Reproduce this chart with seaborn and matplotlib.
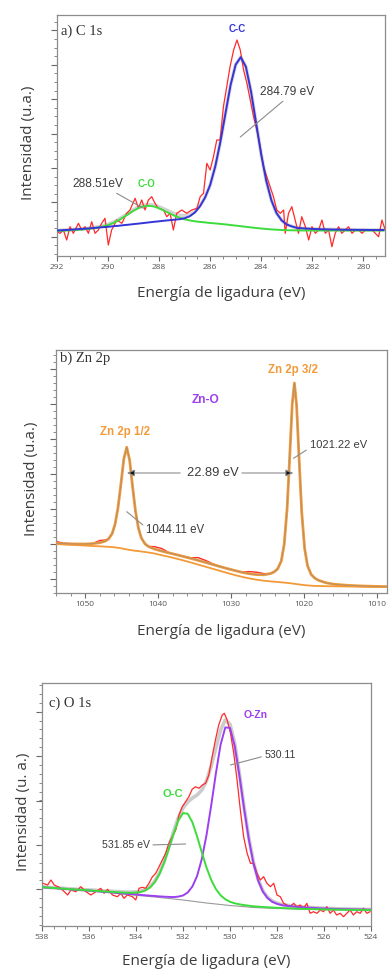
"""
XPS high-resolution spectra: C 1s, Zn 2p, O 1s (three stacked panels).
"""
import numpy as np
import matplotlib
matplotlib.use('Agg')
import matplotlib.pyplot as plt
from matplotlib.ticker import MultipleLocator, FixedLocator
import seaborn as sns

# ── a) C 1s ───────────────────────────────────────────────────────────
c1s_energy = np.linspace(292.0, 279.2, 65)
c1s_cc = [25.5, 25.8, 26.1, 26.4, 26.8, 27.1, 27.5, 27.9, 28.4, 28.8,
          29.2, 29.8, 30.2, 30.8, 31.3, 31.9, 32.4, 33.0, 33.6, 34.2,
          34.7, 35.3, 35.8, 36.3, 36.8, 37.8, 39.7, 43.5, 49.7, 58.4,
          71.0, 89.6, 114.1, 142.6, 171.0, 191.4, 198.8, 189.2, 164.6, 133.0,
          101.5, 75.0, 55.6, 42.9, 35.6, 31.5, 29.6, 28.1, 27.7, 27.4,
          27.1, 26.9, 26.7, 26.6, 26.5, 26.4, 26.3, 26.2, 26.2, 26.1,
          26.1, 26.0, 26.0, 26.0, 26.0]
c1s_co = [25.0, 25.3, 25.6, 25.9, 26.2, 26.5, 27.1, 27.7, 28.4, 29.5,
          30.9, 33.0, 35.5, 38.7, 42.0, 45.3, 48.0, 49.7, 50.2, 49.5,
          47.7, 45.3, 42.8, 40.3, 38.3, 36.7, 35.6, 34.7, 34.1, 33.6,
          33.0, 32.6, 32.1, 31.6, 31.0, 30.4, 29.8, 29.2, 28.6, 28.0,
          27.5, 27.0, 26.6, 26.3, 26.0, 25.8, 25.7, 25.6, 25.5, 25.5,
          25.5, 25.5, 25.5, 25.5, 25.5, 25.5, 25.5, 25.5, 25.5, 25.5,
          25.5, 25.5, 25.5, 25.5, 25.5]
c1s_env = [25.5, 25.8, 26.1, 26.4, 26.8, 27.1, 27.7, 28.3, 29.1, 30.2,
           31.6, 33.8, 36.3, 39.6, 42.9, 46.3, 49.0, 50.8, 51.4, 50.8,
           49.1, 46.9, 44.6, 42.4, 40.8, 40.2, 41.1, 44.2, 50.1, 58.6,
           71.0, 89.6, 114.1, 142.6, 171.0, 191.4, 198.8, 189.2, 164.6, 133.0,
           101.5, 75.0, 55.6, 42.9, 35.6, 31.5, 29.6, 28.1, 27.7, 27.4,
           27.1, 26.9, 26.7, 26.6, 26.5, 26.4, 26.3, 26.2, 26.2, 26.1,
           26.1, 26.0, 26.0, 26.0, 26.0]
c1s_raw_energy = [292.00, 291.88, 291.75, 291.62, 291.49, 291.36, 291.16, 291.03, 290.90, 290.77,
                  290.64, 290.51, 290.38, 290.25, 290.12, 289.99, 289.86, 289.66, 289.46, 289.27,
                  289.14, 288.94, 288.81, 288.68, 288.55, 288.42, 288.29, 288.16, 288.03, 287.83,
                  287.70, 287.57, 287.44, 287.31, 287.11, 286.92, 286.72, 286.52, 286.39, 286.26,
                  286.13, 286.00, 285.87, 285.74, 285.61, 285.48, 285.35, 285.22, 285.08, 284.95,
                  284.82, 284.69, 284.56, 284.43, 284.30, 284.17, 284.04, 283.91, 283.78, 283.65,
                  283.52, 283.39, 283.25, 283.12, 283.06, 282.93, 282.80, 282.67, 282.54, 282.41,
                  282.27, 282.14, 282.01, 281.88, 281.75, 281.62, 281.49, 281.36, 281.23, 281.10,
                  280.97, 280.84, 280.71, 280.58, 280.44, 280.31, 280.18, 280.05, 279.92, 279.79,
                  279.66, 279.53, 279.40, 279.27, 279.14]
c1s_raw = [24.3, 22.7, 26.0, 16.0, 29.3, 22.7, 32.7, 26.0, 29.3, 22.7,
           34.3, 22.7, 26.0, 32.7, 37.7, 11.0, 26.0, 36.0, 32.7, 42.7,
           46.0, 57.7, 47.7, 56.0, 46.0, 56.0, 59.3, 52.7, 47.7, 46.0,
           39.3, 42.7, 26.0, 42.7, 46.0, 42.7, 46.0, 47.7, 59.3, 62.7,
           92.7, 86.0, 99.3, 116.0, 116.0, 149.3, 169.3, 189.3, 206.0, 216.0,
           206.0, 186.0, 172.7, 156.0, 139.3, 126.0, 109.3, 89.3, 79.3, 69.3,
           59.3, 46.0, 42.7, 46.0, 22.7, 42.7, 49.3, 36.0, 22.7, 39.3,
           29.3, 16.0, 29.3, 22.7, 26.0, 36.0, 22.7, 26.0, 9.3, 22.7,
           29.3, 22.7, 26.0, 29.3, 22.7, 26.0, 26.0, 22.7, 26.0, 26.0,
           26.0, 22.7, 19.3, 36.0, 26.0]

# ── b) Zn 2p ──────────────────────────────────────────────────────────
zn_energy = [1054, 1053, 1052, 1051, 1050, 1049, 1048, 1047.3, 1046.8, 1046.3,
             1045.9, 1045.5, 1045.1, 1044.7, 1044.3, 1043.9, 1043.5, 1043.1, 1042.7, 1042.3,
             1041.8, 1041.3, 1040.5, 1039.5, 1038.5, 1037.5, 1036.5, 1035.5, 1034.5, 1033.5,
             1032.5, 1031.5, 1030.5, 1029.5, 1028.5, 1027.5, 1026.5, 1025.5, 1024.6, 1024.1,
             1023.6, 1023.1, 1022.7, 1022.3, 1021.9, 1021.6, 1021.3, 1021.0, 1020.7, 1020.3,
             1019.9, 1019.5, 1019.0, 1018.5, 1018.0, 1017, 1016, 1015, 1014, 1013,
             1012, 1011, 1010, 1009, 1008.6]
zn_fit = [49.6, 49.3, 49.1, 49.0, 49.0, 49.3, 50.3, 51.7, 54.0, 59.4,
          68.7, 85.0, 108.6, 133.9, 145.7, 132.8, 106.5, 82.0, 65.0, 55.1,
          49.2, 46.4, 44.0, 41.9, 40.1, 38.3, 36.5, 34.6, 32.6, 30.6,
          28.5, 26.4, 24.4, 22.5, 20.7, 19.3, 18.4, 18.2, 19.4, 21.0,
          24.1, 32.0, 48.7, 84.5, 142.7, 188.9, 210.0, 187.8, 140.6, 81.3,
          44.6, 27.2, 18.5, 14.8, 12.7, 10.3, 8.9, 8.2, 7.7, 7.3,
          7.0, 6.8, 6.6, 6.4, 6.4]
zn_bg = [49.0, 48.6, 48.2, 47.8, 47.4, 47.0, 46.7, 46.4, 46.2, 45.9,
         45.6, 45.2, 44.7, 44.2, 43.6, 43.1, 42.6, 42.2, 41.9, 41.5,
         41.0, 40.5, 39.5, 37.8, 36.2, 34.4, 32.5, 30.5, 28.4, 26.3,
         24.2, 22.1, 20.0, 18.0, 16.2, 14.6, 13.3, 12.3, 11.6, 11.3,
         11.0, 10.7, 10.4, 10.1, 9.8, 9.5, 9.2, 8.9, 8.6, 8.2,
         7.9, 7.6, 7.3, 7.1, 7.0, 6.8, 6.7, 6.6, 6.5, 6.4,
         6.3, 6.2, 6.1, 6.0, 6.0]
zn_raw = [51.6, 49.8, 49.4, 49.2, 49.0, 49.5, 52.5, 52.9, 54.0, 59.4,
          68.7, 85.0, 108.6, 133.9, 145.7, 132.8, 106.5, 82.0, 65.0, 55.1,
          49.2, 46.6, 46.3, 44.5, 40.4, 38.3, 36.5, 35.2, 35.4, 32.6,
          29.2, 26.4, 24.4, 22.5, 20.9, 21.4, 20.8, 19.4, 19.4, 21.0,
          24.1, 32.0, 48.7, 84.5, 142.7, 188.9, 210.0, 187.8, 140.6, 81.3,
          44.6, 27.2, 18.5, 14.8, 12.7, 10.3, 8.9, 8.2, 7.7, 7.3,
          7.0, 6.8, 6.6, 6.4, 6.4]

# ── c) O 1s ───────────────────────────────────────────────────────────
o_energy = np.linspace(538.0, 524.0, 71)
o_bg = [38.5, 38.2, 37.8, 37.5, 37.1, 36.8, 36.4, 36.1, 35.7, 35.4,
        35.0, 34.6, 34.2, 33.8, 33.4, 33.0, 32.6, 32.1, 31.7, 31.2,
        30.8, 30.3, 29.9, 29.4, 29.0, 28.5, 28.0, 27.5, 27.0, 26.5,
        26.0, 25.4, 24.8, 24.2, 23.6, 23.0, 22.5, 22.0, 21.5, 21.0,
        20.5, 20.1, 19.7, 19.3, 18.9, 18.5, 18.3, 18.1, 17.9, 17.7,
        17.5, 17.4, 17.2, 17.1, 16.9, 16.8, 16.7, 16.6, 16.5, 16.4,
        16.3, 16.2, 16.2, 16.1, 16.1, 16.0, 16.0, 15.9, 15.9, 15.8,
        15.8]
o_zn = [38.8, 38.5, 38.1, 37.8, 37.4, 37.1, 36.7, 36.4, 36.0, 35.7,
        35.5, 35.1, 34.7, 34.3, 33.9, 33.6, 33.2, 32.7, 32.3, 31.9,
        31.6, 31.1, 30.7, 30.3, 30.0, 29.6, 29.3, 29.1, 28.9, 29.4,
        30.5, 33.5, 39.5, 50.0, 67.0, 90.9, 120.5, 152.7, 181.4, 198.6,
        198.1, 180.0, 150.4, 117.3, 86.8, 62.4, 45.3, 34.3, 27.9, 24.2,
        22.2, 20.9, 20.2, 19.7, 19.2, 18.8, 18.5, 18.2, 18.0, 17.7,
        17.5, 17.3, 17.2, 17.0, 16.9, 16.8, 16.7, 16.6, 16.5, 16.4,
        16.3]
o_c = [38.8, 38.5, 38.1, 37.9, 37.5, 37.2, 36.8, 36.6, 36.2, 36.0,
       35.6, 35.3, 35.0, 34.6, 34.3, 34.1, 33.8, 33.5, 33.3, 33.2,
       33.4, 34.0, 35.6, 38.6, 43.9, 52.1, 63.5, 77.5, 92.4, 105.4,
       112.9, 112.3, 103.7, 89.6, 73.6, 58.5, 46.1, 36.9, 30.7, 26.7,
       24.2, 22.7, 21.7, 20.9, 20.3, 19.7, 19.35, 19.0, 18.7, 18.45,
       18.2, 18.0, 17.8, 17.6, 17.4, 17.2, 17.1, 17.0, 16.85, 16.7,
       16.6, 16.5, 16.5, 16.35, 16.3, 16.2, 16.2, 16.1, 16.1, 16.0,
       16.0]
o_env = [39.1, 38.8, 38.4, 38.2, 37.8, 37.5, 37.1, 36.9, 36.5, 36.3,
         36.1, 35.8, 35.5, 35.1, 34.8, 34.7, 34.4, 34.1, 33.9, 33.9,
         34.2, 34.8, 36.4, 39.5, 44.9, 53.2, 64.8, 79.1, 94.3, 108.3,
         118.0, 124.0, 128.0, 131.0, 136.0, 145.0, 160.0, 178.0, 196.0, 206.0,
         201.8, 182.6, 152.4, 118.9, 88.2, 63.6, 46.4, 35.2, 28.7, 25.0,
         22.9, 21.5, 20.8, 20.2, 19.7, 19.2, 18.9, 18.6, 18.35, 18.0,
         17.8, 17.6, 17.45, 17.25, 17.15, 17.0, 16.9, 16.8, 16.7, 16.6,
         16.5]
o_raw_energy = [537.96, 537.76, 537.62, 537.48, 537.26, 537.05, 536.91, 536.77, 536.56, 536.35,
                536.13, 535.92, 535.71, 535.50, 535.36, 535.21, 535.00, 534.79, 534.65, 534.51,
                534.37, 534.15, 534.01, 533.87, 533.73, 533.59, 533.45, 533.30, 533.16, 533.02,
                532.88, 532.74, 532.60, 532.46, 532.31, 532.17, 532.03, 531.89, 531.75, 531.61,
                531.47, 531.32, 531.18, 531.04, 530.90, 530.76, 530.62, 530.48, 530.33, 530.24,
                530.12, 529.98, 529.84, 529.70, 529.56, 529.42, 529.27, 529.13, 528.99, 528.85,
                528.71, 528.57, 528.43, 528.28, 528.14, 528.00, 527.86, 527.72, 527.58, 527.44,
                527.29, 527.15, 527.01, 526.87, 526.73, 526.59, 526.45, 526.30, 526.16, 526.02,
                525.88, 525.74, 525.60, 525.46, 525.31, 525.17, 525.03, 524.89, 524.75, 524.61,
                524.46, 524.32, 524.18, 524.04]
o_raw = [42.7, 41.0, 46.0, 41.0, 38.7, 34.3, 31.0, 36.0, 34.3, 39.3,
         34.3, 31.0, 34.3, 37.7, 32.7, 36.7, 31.0, 29.3, 32.7, 27.7,
         31.0, 29.3, 26.0, 37.7, 38.7, 37.7, 42.7, 49.3, 52.7, 59.3,
         66.0, 72.7, 82.7, 89.3, 96.0, 111.0, 119.3, 124.3, 129.3, 136.7,
         139.3, 137.7, 141.0, 142.7, 151.0, 169.3, 186.0, 201.0, 211.0, 212.7,
         206.0, 192.7, 172.7, 146.0, 116.0, 89.3, 72.7, 62.7, 62.7, 52.7,
         46.0, 49.3, 42.7, 39.3, 42.7, 31.0, 29.3, 22.7, 21.0, 19.3,
         22.7, 19.3, 21.0, 17.7, 22.7, 12.7, 14.3, 12.7, 16.0, 14.3,
         19.3, 12.7, 16.0, 11.0, 12.7, 9.3, 12.7, 16.0, 11.0, 14.3,
         12.7, 17.7, 12.7, 14.3]

# ── Style ─────────────────────────────────────────────────────────────
sns.set_style('white')
plt.rcParams['font.family'] = ['DejaVu Sans']

RED = '#ff2a2a'
BLUE = '#3434d8'
GREEN = '#3ddc3d'
ORANGE = '#f39a38'
PURPLE = '#9b3ff0'
GRAY_TXT = '#3c3c3c'
LEADER = '#8c8c8c'
LABEL_FONT = 'Open Sans'
NOTE_FONT = 'Liberation Sans'


def line(ax, x, y, color, lw, z, alpha=1.0):
    sns.lineplot(x=x, y=y, ax=ax, color=color, linewidth=lw, estimator=None,
                 sort=False, legend=False, zorder=z, alpha=alpha)


def style_axes(ax, xlim, xmajor, xminor, ymajor, yminor, ytop, ylabel,
               ylab_x, xlab_y):
    ax.set_xlim(*xlim)
    ax.set_ylim(0, ytop)
    ax.xaxis.set_major_locator(MultipleLocator(xmajor))
    ax.xaxis.set_minor_locator(MultipleLocator(xminor))
    ax.yaxis.set_major_locator(FixedLocator(ymajor))
    ax.yaxis.set_minor_locator(FixedLocator(yminor))
    ax.tick_params(axis='x', which='major', direction='out', length=3.5,
                   width=0.8, color='#666666', labelsize=6, labelcolor='#555555',
                   pad=2.5, bottom=True)
    ax.tick_params(axis='x', which='minor', direction='out', length=2,
                   width=0.6, color='#777777', bottom=True)
    ax.tick_params(axis='y', which='major', direction='out', length=4,
                   width=0.8, color='#666666', left=True, labelleft=False)
    ax.tick_params(axis='y', which='minor', direction='out', length=2,
                   width=0.6, color='#777777', left=True)
    for lab in ax.get_xticklabels():
        lab.set_family(LABEL_FONT)
    for sp in ax.spines.values():
        sp.set_color('#8c8c8c')
        sp.set_linewidth(0.9)
    ax.set_xlabel('Energía de ligadura (eV)', fontsize=11, color=GRAY_TXT,
                  family=LABEL_FONT)
    ax.xaxis.set_label_coords(0.5, xlab_y)
    ax.xaxis.label.set_va('center')
    ax.set_ylabel(ylabel, fontsize=11, color=GRAY_TXT, family=LABEL_FONT)
    ax.yaxis.set_label_coords(ylab_x, 0.47)
    ax.yaxis.label.set_va('center')


def note(ax, text, xy, xytext, relpos, size=8):
    ax.annotate(text, xy=xy, xytext=xytext, ha='center', va='center',
                fontsize=size, color=GRAY_TXT, family=NOTE_FONT, zorder=6,
                arrowprops=dict(arrowstyle='-', color=LEADER, lw=0.8,
                                shrinkA=0, shrinkB=0, relpos=relpos))


def tag(ax, text, x, y, color, size=7):
    ax.text(x, y, text, ha='center', va='center', fontsize=size, color=color,
            fontweight='bold', family=NOTE_FONT, zorder=6)


fig = plt.figure(figsize=(3.9, 9.75), dpi=100)
fig.patch.set_facecolor('white')

# ── Panel a ───────────────────────────────────────────────────────────
axa = fig.add_axes([57 / 390, 1 - 256 / 975, 328 / 390, 241 / 975])
line(axa, c1s_energy, c1s_env, '#d4d4d4', 2.6, 1)
line(axa, c1s_raw_energy, c1s_raw, RED, 0.9, 2)
line(axa, c1s_energy, c1s_co, GREEN, 1.4, 3)
line(axa, c1s_energy, c1s_cc, BLUE, 1.4, 4)
style_axes(axa, (292, 279.15), 2, 0.5,
           np.arange(19.3, 241, 34.4), np.arange(2.1, 241, 8.6), 241,
           'Intensidad (u.a.)', -0.087, -0.154)
axa.text(0.012, 0.934, 'a) C 1s', transform=axa.transAxes, ha='left',
         va='center', fontsize=10.5, family='Liberation Serif', color='#333333')
tag(axa, 'C-C', 284.94, 227, BLUE, 7)
tag(axa, 'C-O', 288.48, 72, GREEN, 7)
note(axa, '284.79 eV', (284.82, 119), (283.0, 164), (0.5, 0), 8.6)
note(axa, '288.51eV', (288.62, 47.7), (290.39, 72), (0.75, 0), 8.6)

# ── Panel b ───────────────────────────────────────────────────────────
axb = fig.add_axes([56 / 390, 1 - 593 / 975, 331 / 390, 243 / 975])
line(axb, zn_energy, zn_raw, RED, 1.0, 2)
line(axb, zn_energy, zn_bg, ORANGE, 1.3, 3)
line(axb, zn_energy, zn_fit, ORANGE, 2.0, 4)
line(axb, zn_energy, zn_fit, '#8a8a8a', 0.5, 5, alpha=0.8)
style_axes(axb, (1054, 1008.6), 10, 2,
           np.arange(14.5, 243, 35), np.arange(0.5, 243, 7), 243,
           'Intensidad (u.a.)', -0.073, -0.159)
axb.text(0.012, 0.965, 'b) Zn 2p', transform=axb.transAxes, ha='left',
         va='center', fontsize=10.5, family='Liberation Serif', color='#333333')
tag(axb, 'Zn-O', 1033.54, 193, PURPLE, 8.6)
tag(axb, 'Zn 2p 3/2', 1021.47, 223, ORANGE, 8.3)
tag(axb, 'Zn 2p 1/2', 1044.5, 161.3, ORANGE, 8.3)
note(axb, '1021.22 eV', (1021.43, 134.7), (1015.3, 148), (0.0, 0.2), 8)
note(axb, '1044.11 eV', (1044.3, 81.3), (1037.65, 63), (0.0, 0.7), 8.3)
axb.text(1032.44, 120, '22.89 eV', ha='center', va='center', fontsize=9.3,
         color=GRAY_TXT, family=NOTE_FONT, zorder=6)
for start, end in [(1036.97, 1044.28), (1028.5, 1021.43)]:
    axb.annotate('', xy=(end, 120), xytext=(start, 120), zorder=6,
                 arrowprops=dict(arrowstyle='-|>,head_length=0.45,head_width=0.2',
                                 fc='#111111', ec=LEADER, lw=0.8,
                                 shrinkA=0, shrinkB=0))

# ── Panel c ───────────────────────────────────────────────────────────
axc = fig.add_axes([42 / 390, 1 - 926 / 975, 329 / 390, 243 / 975])
line(axc, o_energy, o_env, '#cccccc', 2.6, 1)
line(axc, o_raw_energy, o_raw, RED, 0.9, 2)
line(axc, o_energy, o_bg, '#9a9a9a', 0.8, 3)
line(axc, o_energy, o_zn, PURPLE, 1.4, 4)
line(axc, o_energy, o_c, GREEN, 1.4, 5)
style_axes(axc, (538, 524), 2, 0.5,
           np.arange(36.7, 243, 44.4), np.arange(1.2, 243, 8.88), 243,
           'Intensidad (u. a.)', -0.057, -0.147)
axc.text(0.022, 0.916, 'c) O 1s', transform=axc.transAxes, ha='left',
         va='center', fontsize=10.5, family='Liberation Serif', color='#333333')
tag(axc, 'O-Zn', 528.92, 211, PURPLE, 7.5)
tag(axc, 'O-C', 532.45, 132, GREEN, 8)
note(axc, '530.11', (529.98, 161), (527.86, 171), (0.0, 0.4), 7.6)
note(axc, '531.85 eV', (531.89, 82), (534.44, 81), (1.0, 0.5), 7.6)

fig.savefig('out.png', dpi=100)
